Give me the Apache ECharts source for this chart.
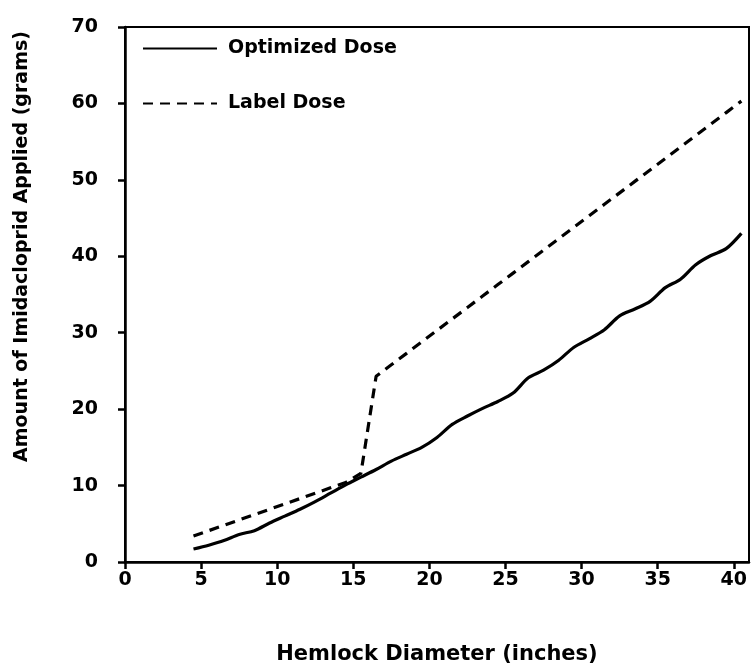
<!DOCTYPE html>
<html>
<head>
<meta charset="utf-8">
<script src="https://cdn.jsdelivr.net/npm/echarts@6/dist/echarts.min.js"></script>
<style>
html,body{margin:0;padding:0;background:#fff;}
#chart{width:751px;height:670px;}
</style>
</head>
<body>
<div id="chart"></div>
<script>
// Hemlock diameter (inches)
var diameters = [4.5,5.5,6.5,7.5,8.5,9.5,10.5,11.5,12.5,13.5,14.5,15.5,16.5,17.5,18.5,19.5,20.5,21.5,22.5,23.5,24.5,25.5,26.5,27.5,28.5,29.5,30.5,31.5,32.5,33.5,34.5,35.5,36.5,37.5,38.5,39.5,40.5];
// Optimized dose (grams)
var optimizedDose = [1.7,2.2,2.8,3.6,4.1,5.1,6.0,6.9,7.9,9.0,10.1,11.1,12.1,13.2,14.1,15.0,16.3,18.0,19.1,20.1,21.0,22.1,24.1,25.1,26.4,28.1,29.2,30.4,32.2,33.1,34.1,35.9,37.0,38.9,40.1,41.0,43.0];
// Label dose (grams)
var labelDose = [3.4,4.1,4.8,5.5,6.2,6.9,7.6,8.3,9.0,9.7,10.4,11.6,24.3,25.8,27.3,28.8,30.3,31.8,33.3,34.8,36.3,37.8,39.3,40.8,42.3,43.8,45.3,46.8,48.3,49.8,51.3,52.8,54.3,55.8,57.3,58.8,60.3];
var xTicks = [0,5,10,15,20,25,30,35,40];
var yTicks = [0,10,20,30,40,50,60,70];

function pairs(xs, ys){ return xs.map(function(x,i){ return [x, ys[i]]; }); }

var FONT = '"DejaVu Sans", sans-serif';
var chart = echarts.init(document.getElementById('chart'), null, {renderer:'canvas'});
chart.setOption({
  animation:false,
  backgroundColor:'#fff',
  grid:{left:125, right:2, top:27, bottom:107, show:true, borderColor:'#000', borderWidth:2, backgroundColor:'transparent'},
  legend:{
    orient:'vertical', left:142, top:39, padding:0, itemGap:36,
    itemWidth:74, itemHeight:20,
    itemStyle:{opacity:0},
    textStyle:{fontFamily:FONT, fontSize:19, fontWeight:'bold', color:'#000', padding:[0,0,0,6]},
    data:['Optimized Dose','Label Dose']
  },
  xAxis:{
    type:'value', min:0, max:41, interval:5,
    name:'Hemlock Diameter (inches)', nameLocation:'middle', nameGap:82,
    nameTextStyle:{fontFamily:FONT, fontSize:21, fontWeight:'bold', color:'#000'},
    axisLine:{show:true, onZero:false, lineStyle:{color:'#000', width:2.5}},
    axisTick:{show:true, inside:false, length:7, lineStyle:{color:'#000', width:2.5}},
    axisLabel:{showMaxLabel:false, margin:9, fontFamily:FONT, fontSize:19, fontWeight:'bold', color:'#000',
      formatter:function(v){ return xTicks.indexOf(v) >= 0 ? String(v) : ''; }},
    splitLine:{show:false}
  },
  yAxis:{
    type:'value', min:0, max:70, interval:10,
    name:'Amount of Imidacloprid Applied (grams)', nameLocation:'middle', nameGap:93,
    nameTextStyle:{fontFamily:FONT, fontSize:19, fontWeight:'bold', color:'#000', padding:[0,0,0,96]},
    axisLine:{show:true, onZero:false, lineStyle:{color:'#000', width:2.5}},
    axisTick:{show:true, inside:false, length:7, lineStyle:{color:'#000', width:2.5}},
    axisLabel:{margin:27, fontFamily:FONT, fontSize:19, fontWeight:'bold', color:'#000',
      formatter:function(v){ return yTicks.indexOf(v) >= 0 ? String(v) : ''; }},
    splitLine:{show:false}
  },
  series:[
    {name:'Optimized Dose', type:'line', data:pairs(diameters, optimizedDose), symbol:'none', smooth:0.3,
     lineStyle:{color:'#000', width:3.2, type:'solid'}, itemStyle:{color:'#000'}},
    {name:'Label Dose', type:'line', data:pairs(diameters, labelDose), symbol:'none',
     lineStyle:{color:'#000', width:3.2, type:[10,7]}, itemStyle:{color:'#000'}}
  ]
});
</script>
</body>
</html>
